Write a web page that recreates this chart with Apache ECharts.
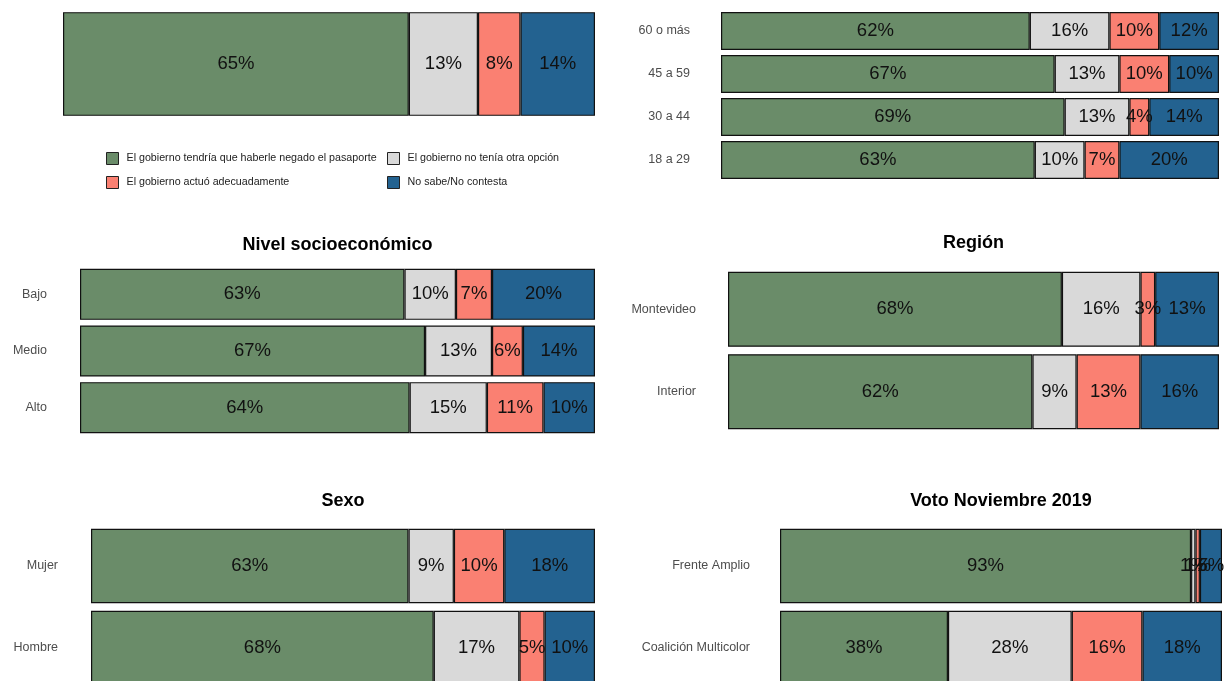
<!DOCTYPE html>
<html>
<head>
<meta charset="utf-8">
<script src="https://cdn.jsdelivr.net/npm/echarts@6/dist/echarts.min.js"></script>
<style>html,body{margin:0;padding:0;background:#fff;overflow:hidden}#c{width:1225px;height:700px}</style>
</head>
<body>
<div id="c"></div>
<script>
// ---- Data ----
const responseNames = [
  'El gobierno tendría que haberle negado el pasaporte',
  'El gobierno no tenía otra opción',
  'El gobierno actuó adecuadamente',
  'No sabe/No contesta'
];
const panelTitles = ['', '', 'Nivel socioeconómico', 'Región', 'Sexo', 'Voto Noviembre 2019'];

// Total
const totalCats = ['Total'];
const totalNegado = [65];
const totalNoOpcion = [13];
const totalAdecuado = [8];
const totalNsnc = [14];

// Edad (bottom to top)
const edadCats = ['18 a 29', '30 a 44', '45 a 59', '60 o más'];
const edadNegado = [63, 69, 67, 62];
const edadNoOpcion = [10, 13, 13, 16];
const edadAdecuado = [7, 4, 10, 10];
const edadNsnc = [20, 14, 10, 12];

// Nivel socioeconómico
const nseCats = ['Alto', 'Medio', 'Bajo'];
const nseNegado = [64, 67, 63];
const nseNoOpcion = [15, 13, 10];
const nseAdecuado = [11, 6, 7];
const nseNsnc = [10, 14, 20];

// Región
const regionCats = ['Interior', 'Montevideo'];
const regionNegado = [62, 68];
const regionNoOpcion = [9, 16];
const regionAdecuado = [13, 3];
const regionNsnc = [16, 13];

// Sexo
const sexoCats = ['Hombre', 'Mujer'];
const sexoNegado = [68, 63];
const sexoNoOpcion = [17, 9];
const sexoAdecuado = [5, 10];
const sexoNsnc = [10, 18];

// Voto Noviembre 2019
const votoCats = ['Coalición Multicolor', 'Frente Amplio'];
const votoNegado = [38, 93];
const votoNoOpcion = [28, 1];
const votoAdecuado = [16, 1];
const votoNsnc = [18, 5];

// ---- Styles / layout ----
const colors = ['#6a8c69', '#d9d9d9', '#fa8072', '#236290'];
const panels = [
  {cats: totalCats, vals: [totalNegado, totalNoOpcion, totalAdecuado, totalNsnc], left: 63, width: 532, top: 7, height: 114, gap: '9%', showY: false, margin: 33},
  {cats: edadCats, vals: [edadNegado, edadNoOpcion, edadAdecuado, edadNsnc], left: 721, width: 498, top: 9.5, height: 172, gap: '12%', showY: true, margin: 31},
  {cats: nseCats, vals: [nseNegado, nseNoOpcion, nseAdecuado, nseNsnc], left: 80, width: 515, top: 266, height: 170, gap: '10%', showY: true, titleTop: 236, margin: 33},
  {cats: regionCats, vals: [regionNegado, regionNoOpcion, regionAdecuado, regionNsnc], left: 728, width: 491, top: 268, height: 165, gap: '9%', showY: true, titleTop: 234, margin: 32},
  {cats: sexoCats, vals: [sexoNegado, sexoNoOpcion, sexoAdecuado, sexoNsnc], left: 91, width: 504, top: 525, height: 164, gap: '9%', showY: true, titleTop: 492, margin: 33},
  {cats: votoCats, vals: [votoNegado, votoNoOpcion, votoAdecuado, votoNsnc], left: 780, width: 442, top: 525, height: 164, gap: '9%', showY: true, titleTop: 492, margin: 30}
];

const grid = [], xAxis = [], yAxis = [], series = [], title = [];
panels.forEach((p, i) => {
  grid.push({left: p.left, top: p.top, width: p.width, height: p.height, containLabel: false});
  xAxis.push({type: 'value', gridIndex: i, min: 0, max: 100, show: false});
  yAxis.push({
    type: 'category', gridIndex: i, data: p.cats, show: p.showY,
    axisLine: {show: false}, axisTick: {show: false}, splitLine: {show: false},
    axisLabel: {color: '#4d4d4d', fontSize: 12.5, margin: p.margin, interval: 0}
  });
  if (panelTitles[i]) {
    title.push({
      text: panelTitles[i], left: p.left + p.width / 2, top: p.titleTop, textAlign: 'center', padding: 0,
      textStyle: {fontSize: 18, fontWeight: 'bold', color: '#000', fontFamily: 'Liberation Sans, Arial, sans-serif'}
    });
  }
  p.vals.forEach((arr, k) => {
    series.push({
      name: responseNames[k], type: 'bar', stack: 'p' + i, xAxisIndex: i, yAxisIndex: i,
      data: arr, barCategoryGap: p.gap,
      itemStyle: {color: colors[k], borderColor: '#111', borderWidth: 1.2},
      label: {show: true, position: 'inside', formatter: '{c}%', fontSize: 18.5, color: '#111'},
      emphasis: {disabled: true},
      animation: false
    });
  });
});

const legendBase = {
  orient: 'vertical', itemWidth: 12, itemHeight: 12, itemGap: 11, icon: 'rect', padding: 0,
  selectedMode: false,
  itemStyle: {borderColor: '#222', borderWidth: 1},
  textStyle: {fontSize: 10.7, color: '#222', padding: [0, 0, 0, 3]}
};

const chart = echarts.init(document.getElementById('c'), null, {renderer: 'canvas'});
chart.setOption({
  animation: false,
  backgroundColor: '#fff',
  textStyle: {fontFamily: 'Liberation Sans, Arial, sans-serif'},
  title: title,
  grid: grid,
  xAxis: xAxis,
  yAxis: yAxis,
  legend: [
    Object.assign({}, legendBase, {left: 106, top: 152, data: [responseNames[0], responseNames[2]]}),
    Object.assign({}, legendBase, {left: 387, top: 152, data: [responseNames[1], responseNames[3]]})
  ],
  series: series
});
</script>
</body>
</html>
